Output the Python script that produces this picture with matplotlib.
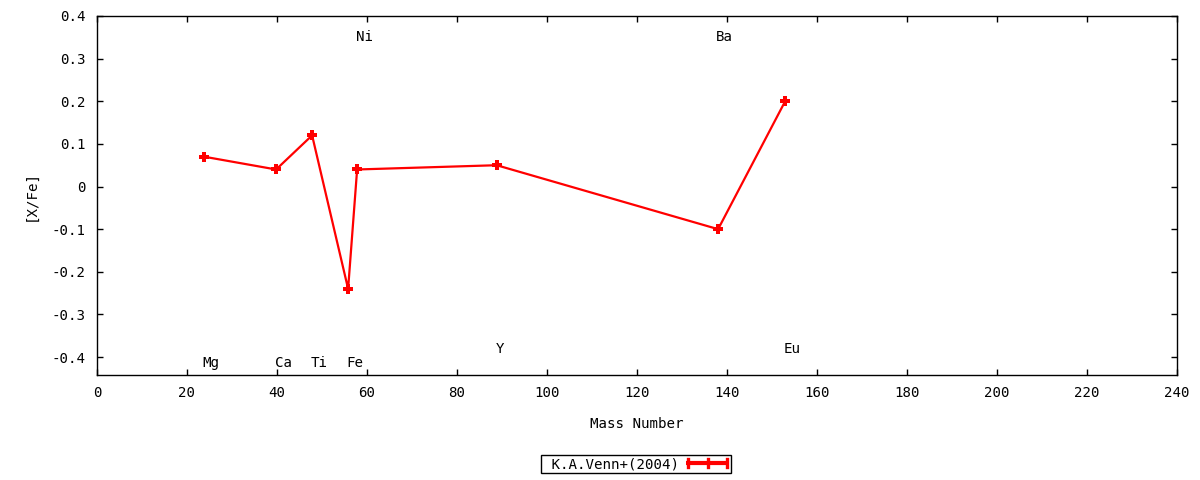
import matplotlib
matplotlib.use("Agg")
import matplotlib.pyplot as plt
from matplotlib.lines import Line2D
from matplotlib.legend_handler import HandlerBase

plt.rcParams['font.family'] = ['DejaVu Sans Mono']
plt.rcParams['font.size'] = 10

# Data
elements = ["Mg", "Ca", "Ti", "Fe", "Ni", "Y", "Ba", "Eu"]
mass_number = [23.8, 39.8, 47.8, 55.8, 57.8, 88.8, 138.0, 152.9]
x_fe = [0.07, 0.04, 0.12, -0.24, 0.04, 0.05, -0.10, 0.20]
label_x = [23.5, 39.5, 47.5, 55.5, 57.5, 88.5, 137.5, 152.5]
label_y = [-0.415, -0.415, -0.415, -0.415, 0.35, -0.382, 0.35, -0.382]
series_name = "K.A.Venn+(2004)"
x_ticks = list(range(0, 241, 20))
y_ticks = [-0.4, -0.3, -0.2, -0.1, 0.0, 0.1, 0.2, 0.3, 0.4]
y_tick_labels = ["-0.4", "-0.3", "-0.2", "-0.1", "0", "0.1", "0.2", "0.3", "0.4"]

FS = 10.2

fig = plt.figure(figsize=(12, 4.8), dpi=100)
ax = fig.add_axes([0.0808, 0.21875, 0.981 - 0.0808, 0.9667 - 0.21875])

line, = ax.plot(mass_number, x_fe, color="red", lw=1.6, marker="P", markersize=7,
                markeredgewidth=0)

for el, lx, ly in zip(elements, label_x, label_y):
    ax.text(lx, ly, el, ha="left", va="center", fontsize=FS)

ax.set_xlim(0, 240)
ax.set_ylim(-0.442, 0.4)
ax.set_xticks(x_ticks)
ax.set_yticks(y_ticks)
ax.set_yticklabels(y_tick_labels)
ax.tick_params(direction="in", length=4, width=1, top=True, right=True,
               labelsize=FS, pad=8)
for s in ax.spines.values():
    s.set_linewidth(1.0)

ax.set_xlabel("Mass Number", fontsize=FS, labelpad=12)
ax.set_ylabel("[X/Fe]", fontsize=FS, labelpad=10)


class ErrLineHandler(HandlerBase):
    def create_artists(self, legend, orig_handle, xdescent, ydescent,
                       width, height, fontsize, trans):
        y = height / 2 - ydescent
        x0 = -xdescent
        x1 = -xdescent + width
        h = 3.0
        arts = [
            Line2D([x0, x1], [y, y], color="red", lw=3, solid_capstyle="butt"),
            Line2D([x0 + 1, x0 + 1], [y - h, y + h], color="red", lw=2.4),
            Line2D([x1 - 1, x1 - 1], [y - h, y + h], color="red", lw=2.4),
            Line2D([(x0 + x1) / 2] * 2, [y - h, y + h], color="red", lw=2.4),
        ]
        for a in arts:
            a.set_transform(trans)
        return arts


leg = fig.legend(handles=[line], labels=[" " + series_name],
                 handler_map={line: ErrLineHandler()},
                 loc="center", bbox_to_anchor=(0.53, 0.033), markerfirst=False,
                 frameon=True, fancybox=False, edgecolor="black", framealpha=1,
                 borderpad=0.15, handlelength=3.0, handletextpad=0.5,
                 borderaxespad=0, fontsize=FS)
leg.get_frame().set_linewidth(1.0)

fig.savefig("out.png", dpi=100)
